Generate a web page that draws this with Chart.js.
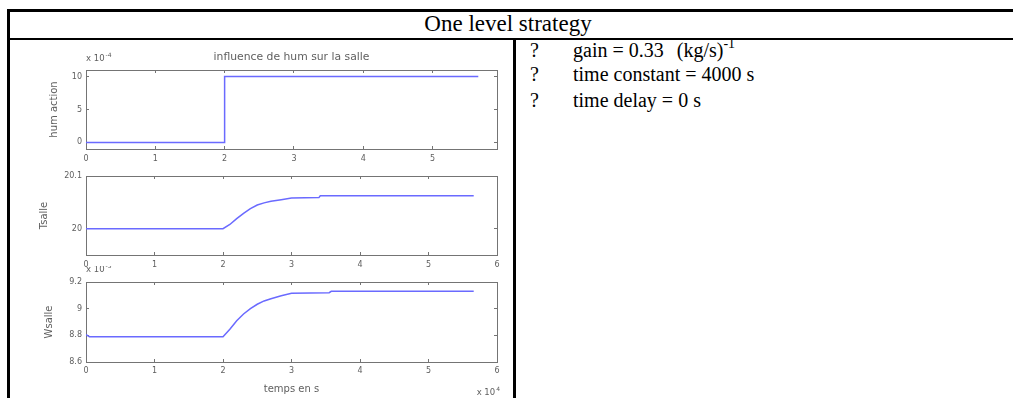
<!DOCTYPE html>
<html>
<head>
<meta charset="utf-8">
<script src="https://cdn.jsdelivr.net/npm/chart.js@4.4.1/dist/chart.umd.min.js"></script>
<style>
  body { margin: 0; width: 1013px; height: 398px; background: #fff; overflow: hidden; position: relative;
         font-family: "Liberation Serif", "Times New Roman", serif; }
  .rule { position: absolute; background: #000; }
  .txt  { position: absolute; white-space: nowrap; line-height: 1; color: #000; }
  .item { font-size: 20px; }
  canvas.plot { position: absolute; left: 10px; filter: blur(0.45px); }
  sup { font-size: 14px; vertical-align: 9px; line-height: 0; }
  .unit { margin-left: 8px; }
</style>
</head>
<body>

<!-- table frame -->
<div class="rule" style="left:7px; top:9px; width:1006px; height:3px"></div>
<div class="rule" style="left:7px; top:9px; width:3px; height:389px"></div>
<div class="rule" style="left:7px; top:38px; width:1006px; height:2px"></div>
<div class="rule" style="left:513px; top:38px; width:3px; height:360px"></div>

<div class="txt" style="left:7px; width:1002px; top:12px; font-size:23px; text-align:center">One level strategy</div>

<div class="txt item" style="left:530px; top:40px">?</div>
<div class="txt item" style="left:573px; top:40px">gain = 0.33 <span class="unit">(kg/s)<sup>-1</sup></span></div>
<div class="txt item" style="left:530px; top:64px">?</div>
<div class="txt item" style="left:573px; top:64px">time constant = 4000 s</div>
<div class="txt item" style="left:530px; top:90px">?</div>
<div class="txt item" style="left:573px; top:90px">time delay = 0 s</div>

<canvas id="plotHum"   class="plot" width="503" height="114" style="top:50px"></canvas>
<canvas id="plotTemp"  class="plot" width="503" height="114" style="top:160px"></canvas>
<canvas id="plotWater" class="plot" width="503" height="132" style="top:266px"></canvas>

<script>
// Time in units of 1e4 s

// humidifier action (x 1e-4)
const humTime   = [0, 2, 2, 5.66];
const humAction = [0, 0, 10, 10];

// room temperature
const tempTime  = [0, 2.0, 2.1, 2.2, 2.3, 2.4, 2.5, 2.6, 2.7, 2.85, 3.0, 3.4, 3.42, 5.66];
const tSalle    = [20, 20, 20.008, 20.019, 20.029, 20.038, 20.045, 20.049, 20.052, 20.055, 20.058, 20.059, 20.0625, 20.0625];

// room humidity (x 1e-3)
const waterTime = [0, 0.05, 2.0, 2.1, 2.2, 2.3, 2.4, 2.5, 2.6, 2.7, 2.85, 3.0, 3.55, 3.58, 5.66];
const wSalle    = [8.805, 8.79, 8.79, 8.845, 8.91, 8.96, 9.0, 9.033, 9.058, 9.075, 9.097, 9.115, 9.12, 9.13, 9.13];

const xTicksHum  = [0, 1, 2, 3, 4, 5];
const xTicksFull = [0, 1, 2, 3, 4, 5, 6];
const humTicks   = [0, 5, 10];
const tempTicks  = [20, 20.1];
const waterTicks = [8.6, 8.8, 9, 9.2];

const LINE = '#6a6aff';
const AXIS = '#747474';
const TEXT = '#5e5e5e';
const SANS = '"DejaVu Sans", sans-serif';

const toPoints = (xs, ys) => xs.map((x, i) => ({ x, y: ys[i] }));

// one side of the matlab-style box: border plus inward tick marks
function sideAxis(position, min, max, ticks, size, extra = {}) {
  return Object.assign({
    type: 'linear', position, min, max,
    afterBuildTicks: s => { s.ticks = ticks.map(v => ({ value: v })); },
    afterFit: s => { if (s.isHorizontal()) s.height = size; else s.width = size; },
    grid: { drawOnChartArea: false, drawTicks: true, tickLength: -3, color: AXIS, lineWidth: 1 },
    border: { display: true, color: AXIS, width: 1 },
    ticks: { display: false }
  }, extra);
}

function labelTicks(padding) {
  return { display: true, padding, color: TEXT, font: { family: SANS, size: 8 }, callback: v => String(v) };
}

function axisTitle(text, padding, size = 10) {
  return { display: true, text, color: TEXT, font: { family: SANS, size }, padding };
}

// "x 10^n" multiplier text next to an axis
function multiplier(id, exp, place) {
  return {
    id,
    afterDraw(chart) {
      const { ctx, chartArea } = chart;
      const p = place(chartArea);
      ctx.save();
      ctx.fillStyle = TEXT;
      ctx.textBaseline = 'middle';
      ctx.font = '8.5px ' + SANS;
      ctx.textAlign = 'left';
      const base = 'x 10';
      const w = ctx.measureText(base).width;
      let x = p.x;
      if (p.alignRight) {
        ctx.font = '6px ' + SANS;
        const we = ctx.measureText(exp).width;
        x = p.x - w - we - 1;
        ctx.font = '8.5px ' + SANS;
      }
      ctx.fillText(base, x, p.y);
      ctx.font = '6px ' + SANS;
      ctx.fillText(exp, x + w + 1, p.y - 4);
      ctx.restore();
    }
  };
}

function makePlot(id, o) {
  return new Chart(document.getElementById(id), {
    type: 'scatter',
    data: {
      datasets: [{
        data: o.points,
        showLine: true,
        borderColor: LINE,
        borderWidth: 1.5,
        pointRadius: 0,
        tension: 0
      }]
    },
    options: {
      responsive: false,
      animation: false,
      devicePixelRatio: 1,
      layout: { padding: { left: 0, right: 16, top: 0, bottom: 0 } },
      plugins: { legend: { display: false }, tooltip: { enabled: false } },
      scales: {
        x: sideAxis('bottom', 0, o.xMax, o.xTicks, o.bottom, {
          ticks: labelTicks(o.xPad),
          title: o.xTitle || { display: false }
        }),
        y: sideAxis('left', o.yMin, o.yMax, o.yTicks, 76, {
          ticks: labelTicks(7),
          title: axisTitle(o.yTitle, { top: o.yTitlePad })
        }),
        x2: sideAxis('top', 0, o.xMax, o.xTicks, o.top, {
          title: o.topTitle || { display: false }
        }),
        y2: sideAxis('right', o.yMin, o.yMax, o.yTicks, 0)
      }
    },
    plugins: o.plugins || []
  });
}

makePlot('plotHum', {
  points: toPoints(humTime, humAction),
  xMax: 5.93, xTicks: xTicksHum, xPad: 8,
  yMin: -1, yMax: 11, yTicks: humTicks,
  yTitle: 'hum action', yTitlePad: 38,
  top: 20, bottom: 15,
  topTitle: axisTitle('influence de hum sur la salle', { top: 1 }, 10.8),
  plugins: [multiplier('expHum', '-4', a => ({ x: a.left, y: a.top - 11 }))]
});

makePlot('plotTemp', {
  points: toPoints(tempTime, tSalle),
  xMax: 6, xTicks: xTicksFull, xPad: 8,
  yMin: 19.95, yMax: 20.1, yTicks: tempTicks,
  yTitle: 'Tsalle', yTitlePad: 28,
  top: 16, bottom: 19
});

makePlot('plotWater', {
  points: toPoints(waterTime, wSalle),
  xMax: 6, xTicks: xTicksFull, xPad: 7,
  yMin: 8.6, yMax: 9.2, yTicks: waterTicks,
  yTitle: 'Wsalle', yTitlePad: 33,
  top: 16, bottom: 36,
  xTitle: axisTitle('temps en s', { bottom: 3 }),
  plugins: [
    multiplier('expWater', '-3', a => ({ x: a.left, y: a.top - 12 })),
    multiplier('expTime', '4', a => ({ x: a.right + 3, y: a.bottom + 31, alignRight: true }))
  ]
});
</script>
</body>
</html>
